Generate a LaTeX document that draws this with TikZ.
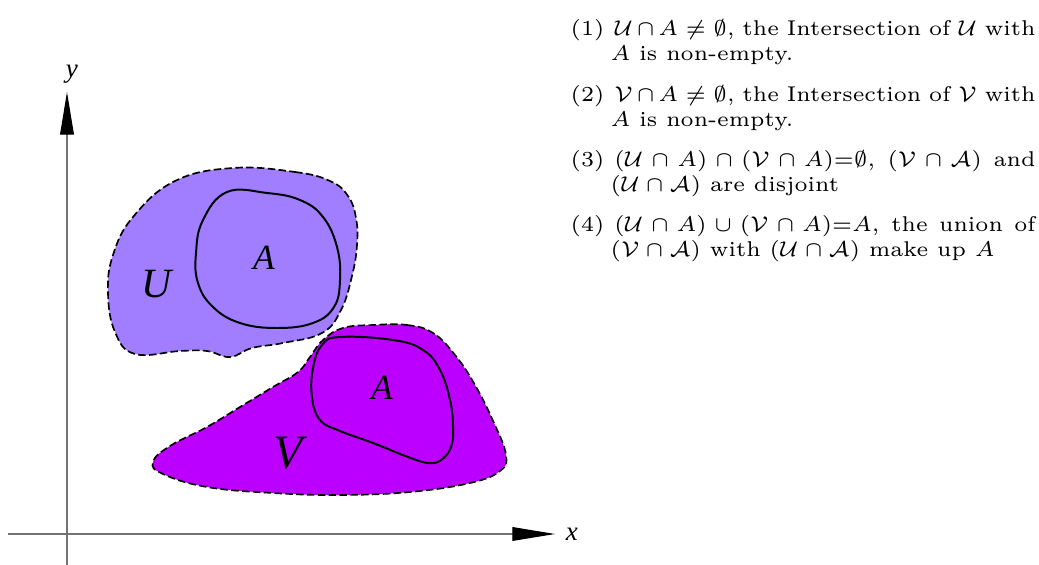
\documentclass[tikz,border=0pt]{standalone}
\usepackage{amsmath,amssymb}
\usepackage{fontspec}
\usepackage{tikz}
\usetikzlibrary{arrows.meta}
\newfontfamily\figfont{Liberation Serif}
\definecolor{lightvioletset}{RGB}{160,126,255}
\definecolor{violetset}{RGB}{187,0,255}
\newcounter{notenum}
\newenvironment{notelist}{%
  \begin{list}{(\arabic{notenum})}{\usecounter{notenum}%
    \setlength\leftmargin{11.23pt}\setlength\labelsep{2.81pt}\setlength\labelwidth{8.42pt}%
    \setlength\itemsep{4.2pt}\setlength\parsep{0pt}\setlength\topsep{0pt}\setlength\partopsep{0pt}}}%
  {\end{list}}
\tikzset{
  setregion/.style={draw=black, line width=0.8pt, dash pattern=on 3.6pt off 1.6pt},
  innerset/.style={draw=black, line width=0.95pt},
  axisline/.style={draw=black!55, line width=0.55pt, -{Triangle[length=20.5pt,width=6.6pt,color=black]}},
  setlabel/.style={font=\figfont\itshape\fontsize{17}{17}\selectfont, inner sep=0pt},
  axislabel/.style={font=\figfont\itshape\fontsize{13}{13}\selectfont, inner sep=0pt},
  notebox/.style={text width=130.5pt, align=justify, inner sep=0pt, font=\fontsize{6}{7.05}\selectfont, scale=1.71, transform shape}
}

\begin{document}
\begin{tikzpicture}[x=0.48pt, y=-0.48pt]
  \useasboundingbox (0,0) rectangle (1039,565);
  % the two open sets
  \draw[setregion, fill=lightvioletset] plot[smooth cycle, tension=0.7] coordinates {
    (233,168) (295,172) (330,181) (348,196) (356,218) (357,245) (352,276) (341,310)
    (322,333) (283,343) (252,348) (230,357) (207,351) (180,351) (135,354) (115,332)
    (108,293) (113,255) (133,217) (175,181)};
  \draw[setregion, fill=violetset] plot[smooth cycle, tension=0.7] coordinates {
    (373,325) (407,325) (433,333) (455,355) (475,385) (494,423) (506,455) (500,471)
    (470,483) (410,492) (340,495) (273,493) (207,487) (163,474) (153,462) (170,446)
    (207,427) (240,407) (273,387) (298,372) (310,357) (323,340) (343,328)};
  % the parts of A
  \draw[innerset] plot[smooth cycle, tension=0.7] coordinates {
    (227,192) (267,193) (300,200) (323,217) (337,247) (340,280) (334,307) (313,323)
    (277,328) (240,323) (213,307) (198,283) (196,253) (203,220)};
  \draw[innerset] plot[smooth cycle, tension=0.7] coordinates {
    (340,337) (393,340) (423,350) (440,370) (450,400) (453,427) (451,447) (441,460)
    (428,463) (408,457) (373,443) (340,431) (320,420) (312,397) (313,368) (322,345)};
  \node[setlabel, font=\figfont\itshape\fontsize{20}{20}\selectfont] (lblU) at (157,284) {U};
  \node[setlabel] (lblAU) at (264,258) {A};
  \node[setlabel] (lblAV) at (382,388) {A};
  \node[setlabel, font=\figfont\itshape\fontsize{23}{23}\selectfont] (lblV) at (288,453) {V};
  % axes
  \coordinate (xstart) at (8,534);
  \coordinate (xend) at (555,534);
  \coordinate (ystart) at (67,565);
  \coordinate (yend) at (67,92);
  \draw[axisline] (xstart) -- (xend);
  \draw[axisline] (ystart) -- (yend);
  \node[axislabel, right=5pt] (lblx) at (xend) {x};
  \node[axislabel] (lbly) at (72,74) {y};
  % the notes
  \node[notebox, anchor=north west] (notes) at (570,10) {%
    \begin{notelist}
      \item $\mathcal{U}\cap A\neq\emptyset$, the Intersection of $\mathcal{U}$ with $A$ is non-empty.
      \item $\mathcal{V}\cap A\neq\emptyset$, the Intersection of $\mathcal{V}$ with $A$ is non-empty.
      \item $(\mathcal{U}\cap A)\cap(\mathcal{V}\cap A)$=$\emptyset$, $(\mathcal{V}\cap\mathcal{A})$ and $(\mathcal{U}\cap\mathcal{A})$ are disjoint
      \item $(\mathcal{U}\cap A)\cup(\mathcal{V}\cap A)$=$A$, the union of $(\mathcal{V}\cap\mathcal{A})$ with $(\mathcal{U}\cap\mathcal{A})$ make up $A$
    \end{notelist}};
\end{tikzpicture}
\end{document}
